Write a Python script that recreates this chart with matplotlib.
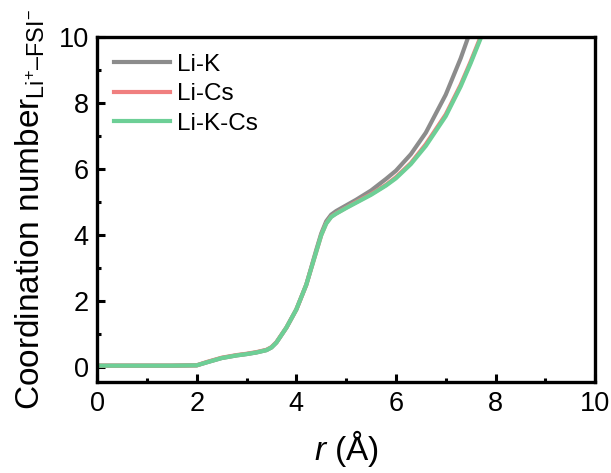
import matplotlib
matplotlib.use("Agg")
import matplotlib.pyplot as plt
from matplotlib.ticker import MultipleLocator

plt.rcParams['font.family'] = 'Liberation Sans'
plt.rcParams['mathtext.fontset'] = 'custom'
plt.rcParams['mathtext.rm'] = 'Liberation Sans'
plt.rcParams['mathtext.it'] = 'Liberation Sans:italic'

# coordination number vs r
r = [0, 0.5, 1.0, 1.5, 2.0, 2.2, 2.5, 2.8, 3.0, 3.2, 3.4, 3.5, 3.6, 3.8,
     4.0, 4.2, 4.4, 4.5, 4.6, 4.7, 4.8, 5.0, 5.2, 5.5, 5.8, 6.0, 6.3, 6.6,
     7.0, 7.3, 7.5, 7.7, 7.8]
li_k = [0.05, 0.05, 0.05, 0.05, 0.06, 0.15, 0.28, 0.36, 0.40, 0.45, 0.52, 0.60,
        0.75, 1.2, 1.75, 2.5, 3.55, 4.05, 4.42, 4.62, 4.73, 4.9, 5.07, 5.35,
        5.7, 5.95, 6.45, 7.1, 8.25, 9.35, 10.2, 11.0, 11.5]
li_cs = [0.05, 0.05, 0.05, 0.05, 0.06, 0.16, 0.29, 0.37, 0.41, 0.46, 0.53, 0.61,
         0.76, 1.2, 1.75, 2.5, 3.5, 4.0, 4.36, 4.56, 4.66, 4.83, 5.0, 5.24,
         5.52, 5.75, 6.18, 6.75, 7.65, 8.55, 9.25, 10.0, 10.45]
li_k_cs = [0.05, 0.05, 0.05, 0.05, 0.06, 0.15, 0.28, 0.36, 0.40, 0.45, 0.52, 0.60,
           0.75, 1.2, 1.75, 2.5, 3.5, 4.0, 4.35, 4.55, 4.65, 4.82, 4.98, 5.22,
           5.5, 5.72, 6.15, 6.7, 7.6, 8.5, 9.2, 9.95, 10.4]

fig = plt.figure(figsize=(6.11, 4.73), dpi=100)
ax = fig.add_axes([0.159, 0.192, 0.815, 0.730])

ax.plot(r, li_k, color='#8c8c8c', lw=3, label='Li-K')
ax.plot(r, li_cs, color='#f07f7f', lw=3, label='Li-Cs')
ax.plot(r, li_k_cs, color='#6dcf96', lw=3, label='Li-K-Cs')

ax.set_xlim(0, 10)
ax.set_ylim(-0.45, 10)
ax.xaxis.set_major_locator(MultipleLocator(2))
ax.xaxis.set_minor_locator(MultipleLocator(1))
ax.yaxis.set_major_locator(MultipleLocator(2))
ax.yaxis.set_minor_locator(MultipleLocator(1))
ax.tick_params(which='both', direction='in', width=2.2, labelsize=19.5)
ax.tick_params(which='major', length=6, pad=6)
ax.tick_params(which='minor', length=3)
for s in ax.spines.values():
    s.set_linewidth(2.4)

ax.set_xlabel('$r$ (Å)', fontsize=24, labelpad=8)
ax.set_ylabel('Coordination number$_{\\mathrm{Li^{+}–FSI^{-}}}$', fontsize=24, labelpad=8)

ax.legend(loc='upper left', frameon=False, fontsize=17.5, handlelength=2.3,
          handletextpad=0.3, labelspacing=0.3, borderaxespad=0.25,
          borderpad=0.45)

fig.savefig('out.png', dpi=100)
